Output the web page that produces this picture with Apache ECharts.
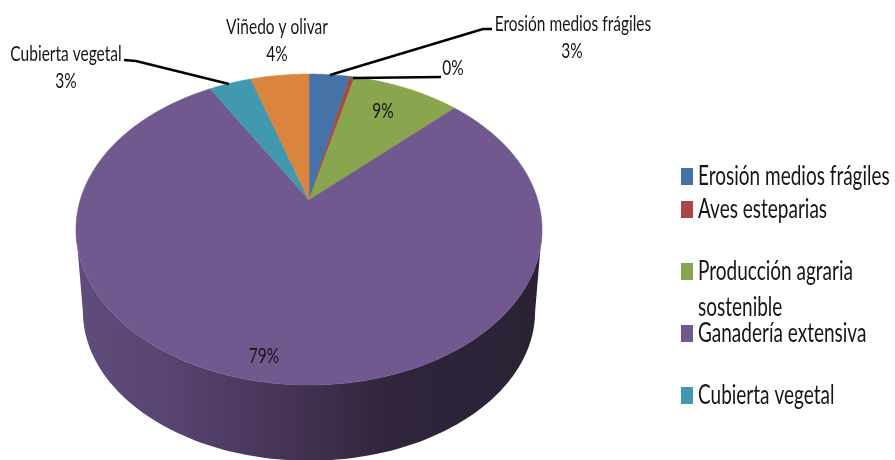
<!DOCTYPE html>
<html><head><meta charset="utf-8">
<script src="https://cdn.jsdelivr.net/npm/echarts@6/dist/echarts.min.js"></script>
<style>html,body{margin:0;padding:0;background:#fff}#c{width:895px;height:460px}</style>
</head><body><div id="c"></div>
<script>
const categories = ['Erosión medios frágiles','Aves esteparias','Producción agraria sostenible','Ganadería extensiva','Cubierta vegetal','Viñedo y olivar'];
const values = [3.4, 0.4, 9.0, 78.8, 3.55, 4.85];
const percentLabels = ['3%','0%','9%','79%','3%','4%'];
const colors = ['#4572A7','#AA4643','#89A54E','#71588F','#4198AF','#DB843D'];
const legendNames = categories.slice(0,5);
const legendLines = [['Erosión medios frágiles'],['Aves esteparias'],['Producción agraria','sostenible'],['Ganadería extensiva'],['Cubierta vegetal']];
const legendRows = [[176],[209],[271,307],[333],[395]];

const FONT = 'Lato';
const INK = '#161616';
const STRETCH = 1.42;
// Projection of the tilted disc
const CX = 309, K = 0.19;
const topRim = {ay:200, a:149.9, b:228.8};
const lowRim = {ay:283, a:144, b:222};
function project(r, th, frac){
  const f = frac === undefined ? 1 : frac;
  const u = Math.sin(th)*f, v = Math.cos(th)*f, d = 1 + K*v;
  return [CX + r.b*u/d, r.ay - r.a*v/d];
}
const total = values.reduce((a,b)=>a+b,0);
function sweep(i){
  let s = 0; for(let j=0;j<i;j++) s += values[j];
  return [s/total*2*Math.PI, (s+values[i])/total*2*Math.PI];
}
function arc(r, a0, a1, n){
  const pts=[]; for(let i=0;i<=n;i++) pts.push(project(r, a0+(a1-a0)*i/n)); return pts;
}
const labelLayout = {
  0:{name:true,x:573,y:24,leader:[[330,75],[483,29],[492,29]]},
  1:{x:453,y:68,leader:[[353,78],[441,77]]},
  2:{x:383,y:111},
  3:{x:264,y:356},
  4:{name:true,x:66,y:54,leader:[[124,60],[136,61],[229,84]]},
  5:{name:true,x:277,y:27}
};
const sideFill = new echarts.graphic.LinearGradient(82,0,533,0,[
  {offset:0,color:'#604c7c'},{offset:0.2,color:'#574470'},{offset:0.48,color:'#433253'},
  {offset:0.68,color:'#30253b'},{offset:1,color:'#2b2236'}],true);

function textEl(x,y,text,size,align){
  return {type:'text',x:x,y:y,scaleY:STRETCH,z2:6,
    style:{x:0,y:0,text:text,fontFamily:FONT,fontSize:size,fill:INK,textAlign:align||'center',textVerticalAlign:'middle'}};
}
function makeRender(i){
  return function(){
    const [a0,a1] = sweep(i);
    const kids = [];
    if(i===3){
      const front0 = 101*Math.PI/180, front1 = 259*Math.PI/180;
      const pts = arc(topRim,front0,front1,120).concat(arc(lowRim,front0,front1,120).reverse());
      kids.push({type:'polygon',shape:{points:pts},style:{fill:sideFill}});
    }
    const pts = [project(topRim,0,0)].concat(arc(topRim,a0,a1,Math.max(4,Math.ceil((a1-a0)*60))));
    kids.push({type:'polygon',shape:{points:pts},style:{fill:colors[i],stroke:colors[i],lineWidth:0.5}});
    const L = labelLayout[i];
    if(L.leader) kids.push({type:'polyline',shape:{points:L.leader},style:{fill:null,stroke:'#000',lineWidth:2.4},z2:5});
    if(L.name){
      kids.push(textEl(L.x,L.y,categories[i],15.5));
      kids.push(textEl(L.x-(i===0?1:0),L.y+27,percentLabels[i],15.5));
    } else {
      kids.push(textEl(L.x,L.y,percentLabels[i],15.5));
    }
    return {type:'group',children:kids};
  };
}
const series = categories.map((c,i)=>({
  type:'custom',name:c,coordinateSystem:'none',data:[values[i]],
  itemStyle:{color:colors[i]},renderItem:makeRender(i),silent:true,animation:false
}));
const legends = legendNames.map((n,i)=>({
  data:[n],left:681,top:legendRows[i][0]-8,orient:'vertical',selectedMode:false,
  icon:'rect',itemWidth:12,itemHeight:17,itemGap:0,padding:0,
  formatter:()=>' ',textStyle:{fontSize:10}
}));
const graphicTexts = [];
legendLines.forEach((lines,i)=>lines.forEach((t,j)=>{
  graphicTexts.push(textEl(698,legendRows[i][j],t,19,'left'));
}));
const chart = echarts.init(document.getElementById('c'),null,{renderer:'canvas'});
chart.setOption({
  animation:false,backgroundColor:'#fff',
  legend:legends,series:series,graphic:graphicTexts
});
</script></body></html>
